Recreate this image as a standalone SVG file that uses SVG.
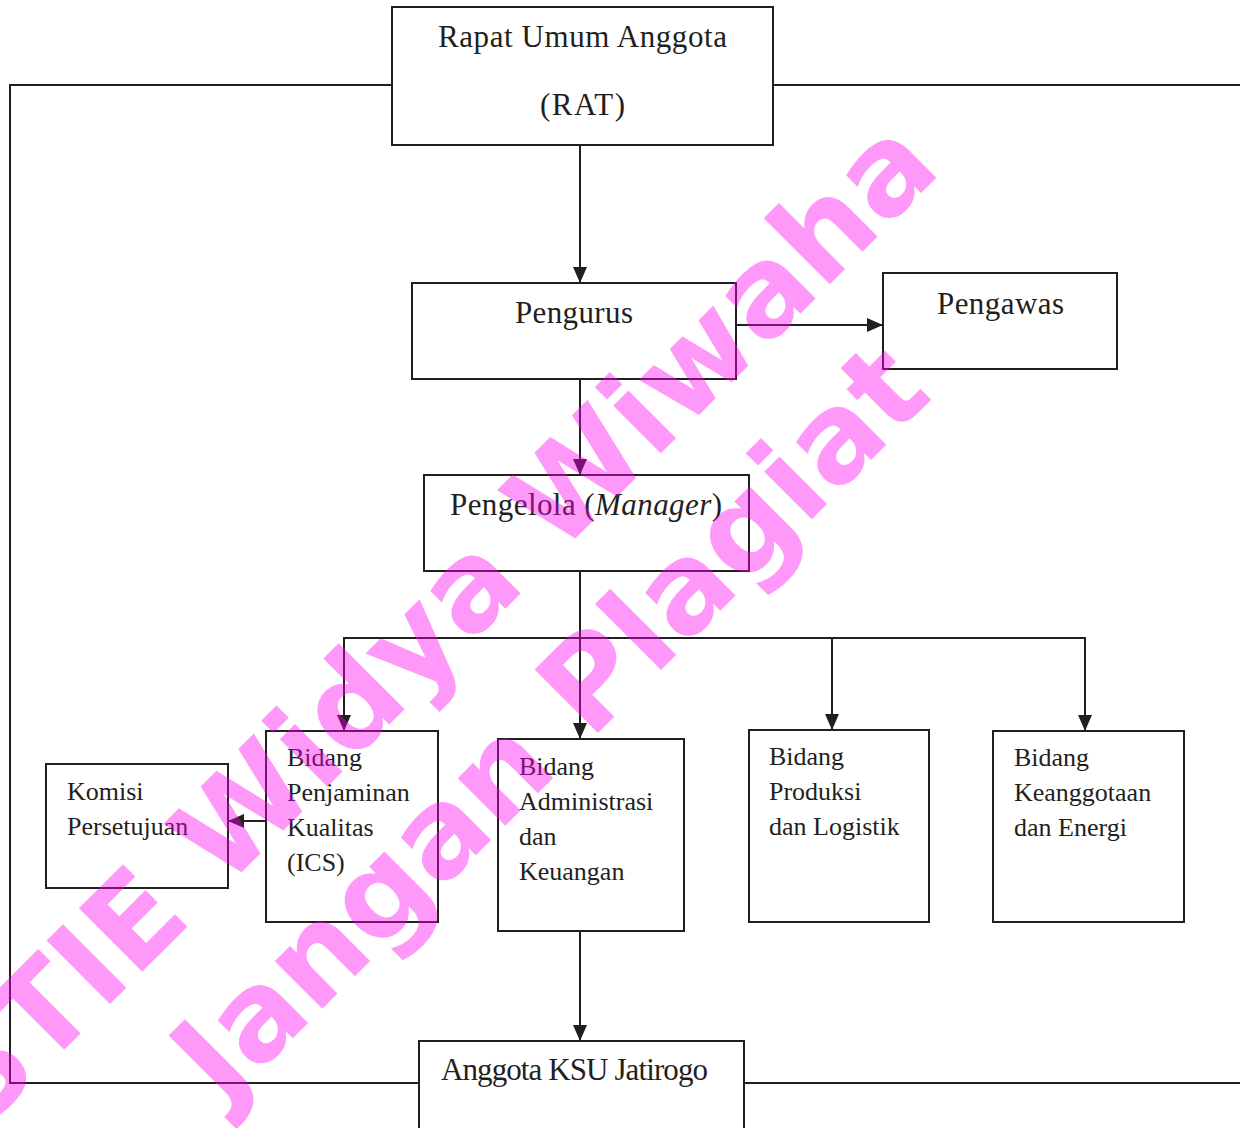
<svg xmlns="http://www.w3.org/2000/svg" width="1240" height="1128" viewBox="0 0 1240 1128">
<style>
.box{fill:#fff;stroke:#231F20;stroke-width:2}
.ln{fill:none;stroke:#231F20;stroke-width:2}
.big{font-family:"Liberation Serif","Times New Roman",serif;font-size:31px;fill:#231F20}
.sm{font-family:"Liberation Serif","Times New Roman",serif;font-size:26px;fill:#231F20}
.wm{font-family:"DejaVu Sans",sans-serif;font-weight:bold;font-size:123px;fill:#FF00F0;fill-opacity:0.4}
</style>
<defs>
<marker id="ah" markerUnits="userSpaceOnUse" markerWidth="16" markerHeight="16" viewBox="0 0 16 16" refX="16" refY="8" orient="auto">
<path d="M0,1 L16,8 L0,15 Z" fill="#231F20"/>
</marker>
</defs>
<rect width="1240" height="1128" fill="#fff"/>
<g id="connectors">
<polyline class="ln" points="392,85 10,85 10,1083 419,1083"/>
<line class="ln" x1="773" y1="85" x2="1240" y2="85"/>
<line class="ln" x1="744" y1="1083" x2="1240" y2="1083"/>
<line class="ln" x1="580" y1="145" x2="580" y2="283" marker-end="url(#ah)"/>
<line class="ln" x1="736" y1="325" x2="883" y2="325" marker-end="url(#ah)"/>
<line class="ln" x1="580" y1="379" x2="580" y2="475" marker-end="url(#ah)"/>
<line class="ln" x1="580" y1="571" x2="580" y2="739" marker-end="url(#ah)"/>
<line class="ln" x1="343" y1="638" x2="1086" y2="638"/>
<line class="ln" x1="344" y1="637" x2="344" y2="731" marker-end="url(#ah)"/>
<line class="ln" x1="832" y1="637" x2="832" y2="730" marker-end="url(#ah)"/>
<line class="ln" x1="1085" y1="637" x2="1085" y2="731" marker-end="url(#ah)"/>
<line class="ln" x1="266" y1="821" x2="228" y2="821" marker-end="url(#ah)"/>
<line class="ln" x1="580" y1="931" x2="580" y2="1041" marker-end="url(#ah)"/>
</g>
<g id="rat">
<rect class="box" x="392" y="7" width="381" height="138"/>
<text class="big" x="582.5" y="47" text-anchor="middle" textLength="289" lengthAdjust="spacing">Rapat Umum Anggota</text>
<text class="big" x="582.5" y="115" text-anchor="middle" textLength="85" lengthAdjust="spacing">(RAT)</text>
</g>
<g id="pengurus">
<rect class="box" x="412" y="283" width="324" height="96"/>
<text class="big" x="574" y="323" text-anchor="middle" textLength="118" lengthAdjust="spacing">Pengurus</text>
</g>
<g id="pengawas">
<rect class="box" x="883" y="273" width="234" height="96"/>
<text class="big" x="1000.5" y="314" text-anchor="middle" textLength="127" lengthAdjust="spacing">Pengawas</text>
</g>
<g id="pengelola">
<rect class="box" x="424" y="475" width="325" height="96"/>
<text class="big" x="450" y="515" textLength="272" lengthAdjust="spacing">Pengelola (<tspan font-style="italic">Manager</tspan>)</text>
</g>
<g id="komisi">
<rect class="box" x="46" y="764" width="182" height="124"/>
<text class="sm" x="67" y="800">Komisi</text>
<text class="sm" x="67" y="835">Persetujuan</text>
</g>
<g id="ics">
<rect class="box" x="266" y="731" width="172" height="191"/>
<text class="sm" x="287" y="766">Bidang</text>
<text class="sm" x="287" y="801">Penjaminan</text>
<text class="sm" x="287" y="836">Kualitas</text>
<text class="sm" x="287" y="871">(ICS)</text>
</g>
<g id="admin">
<rect class="box" x="498" y="739" width="186" height="192"/>
<text class="sm" x="519" y="775">Bidang</text>
<text class="sm" x="519" y="810">Administrasi</text>
<text class="sm" x="519" y="845">dan</text>
<text class="sm" x="519" y="880">Keuangan</text>
</g>
<g id="produksi">
<rect class="box" x="749" y="730" width="180" height="192"/>
<text class="sm" x="769" y="765">Bidang</text>
<text class="sm" x="769" y="800">Produksi</text>
<text class="sm" x="769" y="835">dan Logistik</text>
</g>
<g id="keanggotaan">
<rect class="box" x="993" y="731" width="191" height="191"/>
<text class="sm" x="1014" y="766">Bidang</text>
<text class="sm" x="1014" y="801">Keanggotaan</text>
<text class="sm" x="1014" y="836">dan Energi</text>
</g>
<g id="anggota">
<rect class="box" x="419" y="1041" width="325" height="100"/>
<text class="big" x="441" y="1080" font-size="29.5" textLength="267" lengthAdjust="spacing">Anggota KSU Jatirogo</text>
</g>
<g id="watermark">
<text class="wm" x="-20" y="1134" transform="rotate(-45 -20 1134)">STIE Widya Wiwaha</text>
<text class="wm" x="224" y="1107" transform="rotate(-45 224 1107)">Jangan Plagiat</text>
</g>
</svg>
